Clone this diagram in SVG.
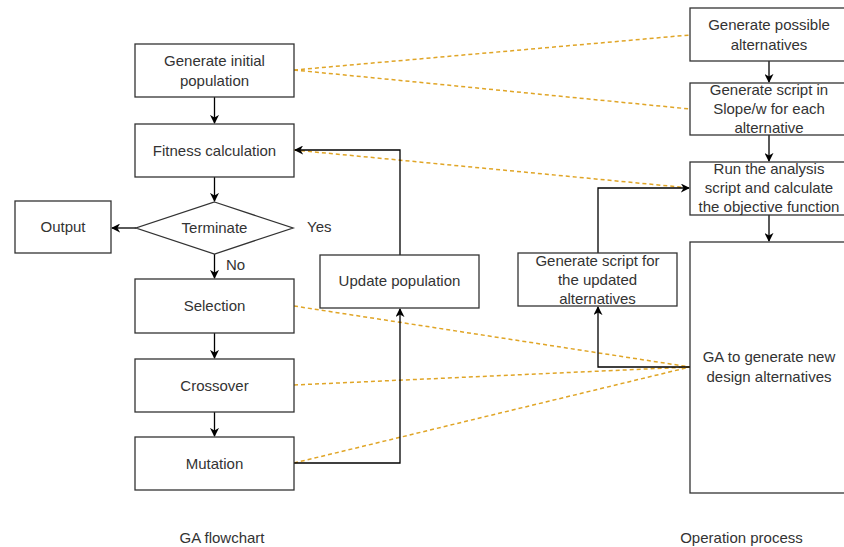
<svg xmlns="http://www.w3.org/2000/svg" width="844" height="547" viewBox="0 0 844 547">
<style>
.box{fill:#fff;stroke:#333;stroke-width:1.3}
.t{font-family:"Liberation Sans",Arial,sans-serif;font-size:15px;fill:#333;text-anchor:middle}
.tl{font-family:"Liberation Sans",Arial,sans-serif;font-size:15px;fill:#333}
.c{fill:none;stroke:#000;stroke-width:1.3}
.d{fill:none;stroke:#e0a526;stroke-width:1.5;stroke-dasharray:4 3}
</style>
<defs>
<marker id="ah" viewBox="0 0 10 10" refX="9" refY="5" markerWidth="9" markerHeight="9" markerUnits="userSpaceOnUse" orient="auto">
<path d="M0,0 L10,5 L0,10 L3,5 Z" fill="#000"/>
</marker>
</defs>
<rect width="844" height="547" fill="#fff"/>
<g id="dashed">
<path class="d" d="M294,70 L690,35"/>
<path class="d" d="M294,70 L690,109"/>
<path class="d" d="M294,150 L690,188"/>
<path class="d" d="M294,306 L690,367"/>
<path class="d" d="M294,385 L690,367"/>
<path class="d" d="M294,463 L690,367"/>
</g>
<g id="connectors">
<path class="c" d="M214.5,97 L214.5,123" marker-end="url(#ah)"/>
<path class="c" d="M214.5,177 L214.5,201" marker-end="url(#ah)"/>
<path class="c" d="M136,228 L112,228" marker-end="url(#ah)"/>
<path class="c" d="M214.5,254 L214.5,278" marker-end="url(#ah)"/>
<path class="c" d="M214.5,333 L214.5,358" marker-end="url(#ah)"/>
<path class="c" d="M214.5,412 L214.5,436" marker-end="url(#ah)"/>
<path class="c" d="M294,463 L400,463 L400,309" marker-end="url(#ah)"/>
<path class="c" d="M400,255 L400,150 L295,150" marker-end="url(#ah)"/>
<path class="c" d="M769,61 L769,82" marker-end="url(#ah)"/>
<path class="c" d="M769,135 L769,161" marker-end="url(#ah)"/>
<path class="c" d="M769,215 L769,241" marker-end="url(#ah)"/>
<path class="c" d="M690,367 L598,367 L598,307" marker-end="url(#ah)"/>
<path class="c" d="M598,253 L598,188 L689,188" marker-end="url(#ah)"/>
</g>
<g id="n-init"><rect class="box" x="135" y="44" width="159" height="53"/><text class="t" x="214.5" y="66">Generate initial</text><text class="t" x="214.5" y="85.5">population</text></g>
<g id="n-fitness"><rect class="box" x="135" y="124" width="159" height="53"/><text class="t" x="214.5" y="155.5">Fitness calculation</text></g>
<g id="n-terminate"><polygon class="box" points="214.5,202 293,228 214.5,254 136,228"/><text class="t" x="214.5" y="233">Terminate</text></g>
<g id="n-output"><rect class="box" x="15" y="201" width="96" height="52"/><text class="t" x="63" y="232">Output</text></g>
<g id="l-yes"><text class="tl" x="307" y="232">Yes</text></g>
<g id="l-no"><text class="tl" x="226" y="270">No</text></g>
<g id="n-selection"><rect class="box" x="135" y="279" width="159" height="54"/><text class="t" x="214.5" y="311">Selection</text></g>
<g id="n-crossover"><rect class="box" x="135" y="359" width="159" height="53"/><text class="t" x="214.5" y="390.5">Crossover</text></g>
<g id="n-mutation"><rect class="box" x="135" y="437" width="159" height="53"/><text class="t" x="214.5" y="468.5">Mutation</text></g>
<g id="n-update"><rect class="box" x="320" y="255" width="159" height="53"/><text class="t" x="399.5" y="285.5">Update population</text></g>
<g id="n-possible"><rect class="box" x="690" y="8" width="159" height="53"/><text class="t" x="769" y="30">Generate possible</text><text class="t" x="769" y="49.5">alternatives</text></g>
<g id="n-script"><rect class="box" x="690" y="83" width="159" height="52"/><text class="t" x="769" y="95">Generate script in</text><text class="t" x="769" y="114">Slope/w for each</text><text class="t" x="769" y="133">alternative</text></g>
<g id="n-run"><rect class="box" x="690" y="162" width="159" height="53"/><text class="t" x="769" y="174">Run the analysis</text><text class="t" x="769" y="193">script and calculate</text><text class="t" x="769" y="212">the objective function</text></g>
<g id="n-ga"><rect class="box" x="690" y="242" width="159" height="251"/><text class="t" x="769" y="362">GA to generate new</text><text class="t" x="769" y="381.5">design alternatives</text></g>
<g id="n-updscript"><rect class="box" x="518" y="253" width="159" height="53"/><text class="t" x="597.5" y="265.5">Generate script for</text><text class="t" x="597.5" y="284.5">the updated</text><text class="t" x="597.5" y="303.5">alternatives</text></g>
<g id="captions"><text class="t" x="222" y="543">GA flowchart</text><text class="t" x="741.5" y="543">Operation process</text></g>
</svg>
